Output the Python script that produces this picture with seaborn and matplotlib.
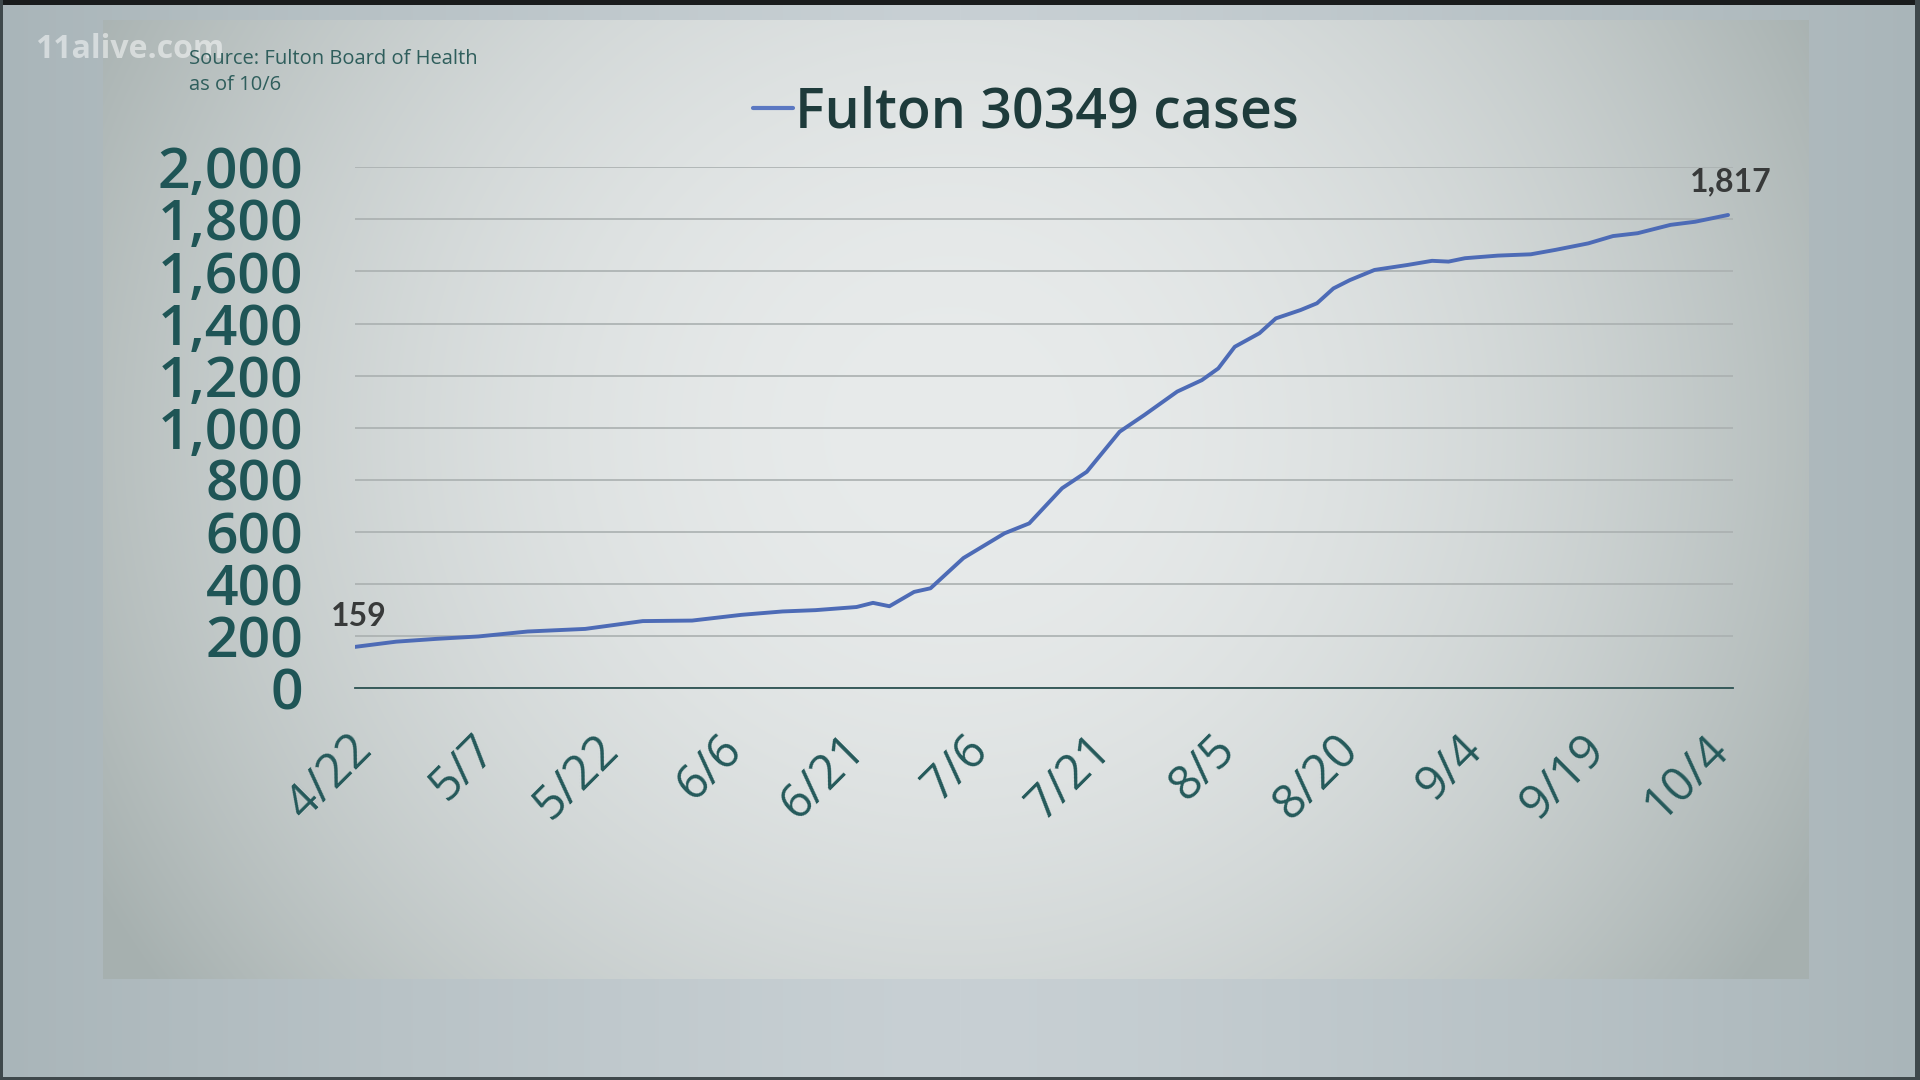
import numpy as np
import pandas as pd
import matplotlib
matplotlib.use("Agg")
import matplotlib.pyplot as plt
import matplotlib.transforms as mtransforms
from matplotlib.colors import to_rgb
import seaborn as sns

# ---------------- data ----------------
YEAR = 2020
dates = ["4/22", "4/27", "5/2", "5/7", "5/13", "5/20", "5/27", "6/2", "6/8", "6/13",
         "6/17", "6/22", "6/24", "6/26", "6/29", "7/1", "7/5", "7/10", "7/13", "7/17",
         "7/20", "7/24", "7/27", "7/31", "8/3", "8/5", "8/7", "8/10", "8/12", "8/15",
         "8/17", "8/19", "8/21", "8/24", "8/28", "8/31", "9/2", "9/4", "9/8", "9/12",
         "9/15", "9/19", "9/22", "9/25", "9/29", "10/2", "10/6"]
cases = [159, 179, 190, 199, 218, 228, 258, 260, 282, 295,
         300, 312, 328, 315, 370, 384, 500, 595, 633, 768,
         831, 985, 1049, 1139, 1183, 1228, 1311, 1363, 1420, 1452,
         1478, 1535, 1567, 1606, 1625, 1641, 1638, 1651, 1661, 1666,
         1683, 1708, 1736, 1747, 1779, 1791, 1817]
x_tick_labels = ["4/22", "5/7", "5/22", "6/6", "6/21", "7/6", "7/21", "8/5",
                 "8/20", "9/4", "9/19", "10/4"]
y_ticks = [0, 200, 400, 600, 800, 1000, 1200, 1400, 1600, 1800, 2000]
series_label = "Fulton 30349 cases"
source_lines = ["Source: Fulton Board of Health", "as of 10/6"]
watermark = "11alive.com"


def to_dt(s):
    m, d = s.split("/")
    return pd.Timestamp(YEAR, int(m), int(d))


df = pd.DataFrame({"date": [to_dt(s) for s in dates], "cases": cases})
x_ticks = [to_dt(s) for s in x_tick_labels]

# ---------------- style ----------------
sns.set_style("white")
plt.rcParams["font.family"] = ["Open Sans", "DejaVu Sans"]

W, H = 1920, 1080
fig = plt.figure(figsize=(19.2, 10.8), dpi=100)

# ---------------- background ----------------
yy, xx = np.mgrid[0:H, 0:W].astype(float)


def lerp(c1, c2, t):
    a = np.array(to_rgb(c1))
    b = np.array(to_rgb(c2))
    return a + (b - a) * t[..., None]


outer_t = np.clip(np.abs(xx - 960) / 960, 0, 1) ** 1.3
outer = lerp("#c8d0d4", "#a9b5b9", outer_t)
r = np.sqrt(((xx - 950) / 980) ** 2 + ((yy - 430) / 950) ** 2)
panel = lerp("#e8ebeb", "#a6b0af", np.clip(r, 0, 1) ** 2.0)
mask = (xx >= 103) & (xx <= 1808) & (yy >= 20) & (yy <= 978)
img = np.where(mask[..., None], panel, outer)
img[:5, :] = to_rgb("#1a1c1d")
img[:, :3] = to_rgb("#3f484b")
img[:, -5:] = to_rgb("#3f484b")
img[-3:, :] = to_rgb("#3f484b")
bg = fig.add_axes([0, 0, 1, 1], zorder=-10)
bg.imshow(img, aspect="auto", interpolation="bilinear")
bg.axis("off")

# ---------------- main axes ----------------
ax_left, ax_right = 355, 1733
ax_top, ax_bottom = 167.3, 688.3
ax = fig.add_axes([ax_left / W, 1 - ax_bottom / H,
                   (ax_right - ax_left) / W, (ax_bottom - ax_top) / H])
ax.set_facecolor("none")

sns.lineplot(data=df, x="date", y="cases", ax=ax, color="#4d6bb6",
             linewidth=2.8, label=series_label)

ax.set_xlim(x_ticks[0], x_ticks[0] + pd.Timedelta(days=167.6))
ax.set_ylim(0, 2000)
ax.set_xlabel("")
ax.set_ylabel("")

ax.set_yticks(y_ticks)
ax.set_yticklabels([f"{v:,}" for v in y_ticks])
ax.set_xticks(x_ticks)
ax.set_xticklabels(x_tick_labels)

ax.yaxis.grid(True, color="#aab0b0", linewidth=1.2)
ax.xaxis.grid(False)
for side in ["left", "right", "top"]:
    ax.spines[side].set_visible(False)
ax.spines["bottom"].set_color("#2c5252")
ax.spines["bottom"].set_linewidth(1.3)
ax.spines["bottom"].set_zorder(3)

ax.tick_params(axis="y", length=0, pad=37, labelsize=41, labelcolor="#1f5556")
ax.tick_params(axis="x", length=11, width=1.2, color="#2c5252", direction="out",
               pad=16, labelsize=34, labelcolor="#24595a")
for lab in ax.get_yticklabels():
    lab.set_fontweight("semibold")
offset = mtransforms.ScaledTranslation(-0.07, 0, fig.dpi_scale_trans)
for lab in ax.get_xticklabels():
    lab.set_rotation(45)
    lab.set_ha("right")
    lab.set_va("top")
    lab.set_rotation_mode("anchor")
    lab.set_fontweight("medium")
    lab.set_transform(lab.get_transform() + offset)

# annotations of first and last values
ann_kw = dict(textcoords="offset points", ha="center", va="center", fontsize=23,
              fontweight="bold", family=["Lato", "DejaVu Sans"], color="#383a3a")
ax.annotate(f"{df.cases.iloc[0]:,}", xy=(df.date.iloc[0], df.cases.iloc[0]),
            xytext=(3, 22), **ann_kw)
ax.annotate(f"{df.cases.iloc[-1]:,}", xy=(df.date.iloc[-1], df.cases.iloc[-1]),
            xytext=(2, 24), **ann_kw)

# legend acting as title
leg = ax.legend(loc="center", bbox_to_anchor=(1026 / W, 1 - 113 / H),
                bbox_transform=fig.transFigure, frameon=False,
                handlelength=0.72, handletextpad=0.05,
                prop=dict(family=["Open Sans", "DejaVu Sans"], size=40, weight="semibold"))
for t in leg.get_texts():
    t.set_color("#1e3b3b")
for h in leg.get_lines():
    h.set_linewidth(3)
    h.set_color("#5b78c2")

# watermark and source
fig.text(35 / W, 1 - 49 / H, watermark, fontsize=23, fontweight="bold",
         color="white", alpha=0.5, va="center", ha="left",
         family=["Open Sans", "DejaVu Sans"])
fig.text(189 / W, 1 - 59 / H, source_lines[0], fontsize=14.5, color="#2f5e5c",
         va="center", ha="left")
fig.text(189 / W, 1 - 85 / H, source_lines[1], fontsize=14.5, color="#2f5e5c",
         va="center", ha="left")

fig.savefig("out.png", dpi=100)
